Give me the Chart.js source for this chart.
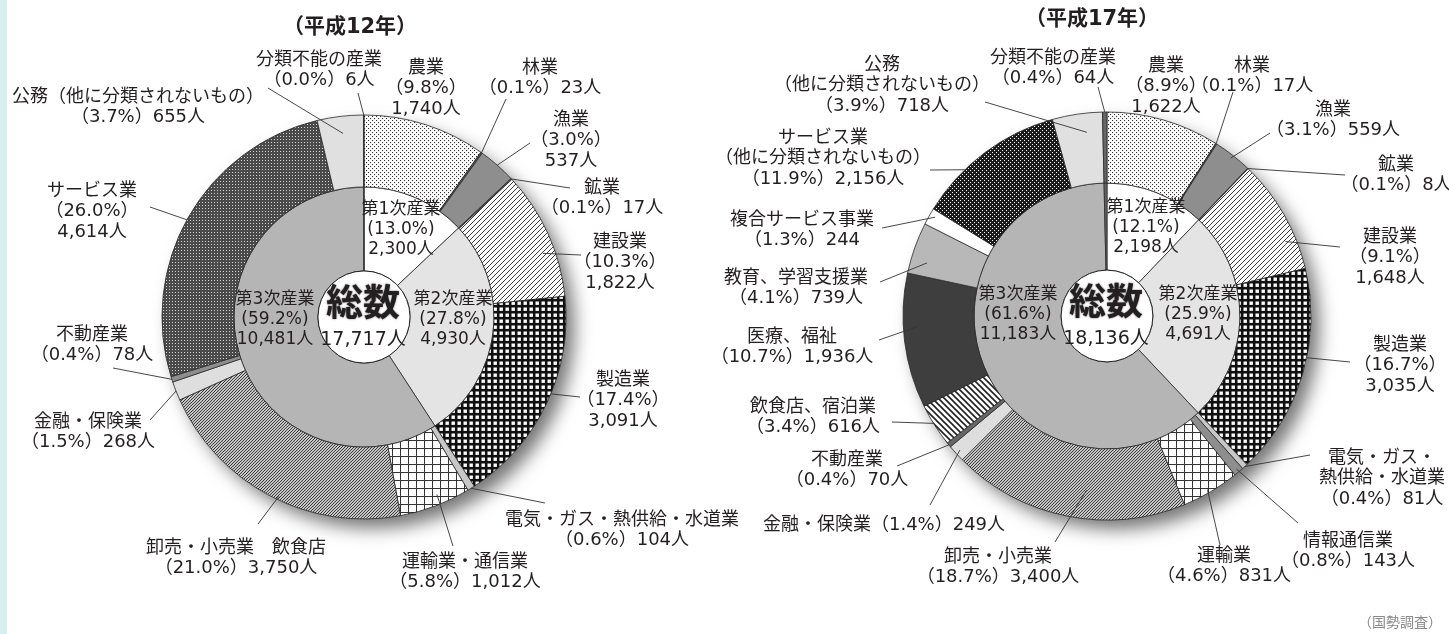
<!DOCTYPE html>
<html lang="ja">
<head>
<meta charset="utf-8">
<script src="https://cdn.jsdelivr.net/npm/chart.js@4.4.0/dist/chart.umd.min.js"></script>
<style>
  html, body { margin: 0; padding: 0; background: #fff; }
  #wrap { position: relative; width: 1449px; height: 634px; overflow: hidden; }
  #edge { position: absolute; left: 0; top: 0; width: 7px; height: 634px; background: #d7eef2; }
  canvas { position: absolute; left: 0; top: 0; }
</style>
</head>
<body>
<div id="wrap">
  <div id="edge"></div>
  <canvas id="c12" width="1449" height="634"></canvas>
  <canvas id="c17" width="1449" height="634"></canvas>
</div>
<script>
// 平成12年
var title12 = '（平成12年）';
var total12 = 17717;
var sectors12 = ['第1次産業', '第2次産業', '第3次産業', '分類不能の産業'];
var sectorPeople12 = [2300, 4930, 10481, 6];
var sectorPct12 = ['13.0', '27.8', '59.2', '0.0'];
var industries12 = ['農業', '林業', '漁業', '鉱業', '建設業', '製造業', '電気・ガス・熱供給・水道業', '運輸業・通信業',
  '卸売・小売業　飲食店', '金融・保険業', '不動産業', 'サービス業', '公務（他に分類されないもの）', '分類不能の産業'];
var people12 = [1740, 23, 537, 17, 1822, 3091, 104, 1012, 3750, 268, 78, 4614, 655, 6];
var pct12 = ['9.8', '0.1', '3.0', '0.1', '10.3', '17.4', '0.6', '5.8', '21.0', '1.5', '0.4', '26.0', '3.7', '0.0'];

// 平成17年
var title17 = '（平成17年）';
var total17 = 18136;
var sectors17 = ['第1次産業', '第2次産業', '第3次産業', '分類不能の産業'];
var sectorPeople17 = [2198, 4691, 11183, 64];
var sectorPct17 = ['12.1', '25.9', '61.6', '0.4'];
var industries17 = ['農業', '林業', '漁業', '鉱業', '建設業', '製造業', '電気・ガス・熱供給・水道業', '情報通信業', '運輸業',
  '卸売・小売業', '金融・保険業', '不動産業', '飲食店、宿泊業', '医療、福祉', '教育、学習支援業', '複合サービス事業',
  'サービス業（他に分類されないもの）', '公務（他に分類されないもの）', '分類不能の産業'];
var people17 = [1622, 17, 559, 8, 1648, 3035, 81, 143, 831, 3400, 249, 70, 616, 1936, 739, 244, 2156, 718, 64];
var pct17 = ['8.9', '0.1', '3.1', '0.1', '9.1', '16.7', '0.4', '0.8', '4.6', '18.7', '1.4', '0.4', '3.4', '10.7', '4.1', '1.3', '11.9', '3.9', '0.4'];

var source = '（国勢調査）';

var FONT = '"DejaVu Sans", "Noto Sans CJK JP", sans-serif';
var JFONT = '"Noto Sans CJK JP", sans-serif';
var INK = '#231f20';

function pattern(kind) {
  var c = document.createElement('canvas');
  var g = c.getContext('2d');
  var s = 4;
  if (kind === 'dots') {
    s = 4; c.width = c.height = s;
    g.fillStyle = '#fff'; g.fillRect(0, 0, s, s);
    g.fillStyle = '#333'; g.fillRect(0, 0, 1.1, 1.1); g.fillRect(2, 2, 1.1, 1.1);
  } else if (kind === 'darkDots') {
    s = 4; c.width = c.height = s;
    g.fillStyle = '#1c1c1c'; g.fillRect(0, 0, s, s);
    g.fillStyle = '#fff'; g.fillRect(0, 0, 1, 1); g.fillRect(2, 2, 1, 1);
  } else if (kind === 'darkCross') {
    s = 3; c.width = c.height = s;
    g.fillStyle = '#4a4a4a'; g.fillRect(0, 0, s, s);
    g.fillStyle = '#d4d4d4'; g.fillRect(1, 1, 1, 1);
  } else if (kind === 'gridDark') {
    s = 6; c.width = c.height = s;
    g.fillStyle = '#111'; g.fillRect(0, 0, s, s);
    g.fillStyle = '#fff'; g.fillRect(1.5, 1.5, 3.4, 3.4);
  } else if (kind === 'gridLight') {
    s = 8; c.width = c.height = s;
    g.fillStyle = '#fff'; g.fillRect(0, 0, s, s);
    g.fillStyle = '#333'; g.fillRect(0, 0, s, 1); g.fillRect(0, 0, 1, s);
  } else if (kind === 'fineHatch') {
    s = 3; c.width = c.height = s;
    g.fillStyle = '#c6c6c6'; g.fillRect(0, 0, s, s);
    g.fillStyle = '#3a3a3a';
    g.fillRect(0, 2, 1, 1); g.fillRect(1, 1, 1, 1); g.fillRect(2, 0, 1, 1);
  } else if (kind === 'hatchR' || kind === 'hatchL') {
    s = kind === 'hatchL' ? 6 : 5;
    c.width = c.height = s;
    g.fillStyle = '#fff'; g.fillRect(0, 0, s, s);
    g.strokeStyle = '#222';
    g.lineWidth = kind === 'hatchL' ? 1.6 : 0.9;
    g.beginPath();
    if (kind === 'hatchL') {
      g.moveTo(-1, -1); g.lineTo(s + 1, s + 1);
      g.moveTo(-1, s - 1); g.lineTo(1, s + 1);
      g.moveTo(s - 1, -1); g.lineTo(s + 1, 1);
    } else {
      g.moveTo(-1, s + 1); g.lineTo(s + 1, -1);
      g.moveTo(-1, 1); g.lineTo(1, -1);
      g.moveTo(s - 1, s + 1); g.lineTo(s + 1, s - 1);
    }
    g.stroke();
  }
  return g.createPattern(c, 'repeat');
}

var colors12 = [pattern('dots'), '#555', '#8e8e8e', '#555', pattern('hatchR'), pattern('gridDark'), '#c8c8c8',
  pattern('gridLight'), pattern('fineHatch'), '#dedede', '#8e8e8e', pattern('darkCross'), '#e0e0e0', '#888'];
var colors17 = [pattern('dots'), '#555', '#8e8e8e', '#555', pattern('hatchR'), pattern('gridDark'), '#c8c8c8', '#8e8e8e',
  pattern('gridLight'), pattern('fineHatch'), '#dedede', '#666', pattern('hatchL'), '#3e3e3e', '#b8b8b8', '#fff',
  pattern('darkDots'), '#e0e0e0', '#666'];

var S3 = '{n}|（{p}%）|{v}人', S2 = '{n}|（{p}%）{v}人', S1 = '{n}（{p}%）{v}人';

// label layout: x, y of first line, template, optional name break, leader [t in slice, r in ring, endX, endY]
var layout12 = [
  { x: 426, y: 68, t: S3 },
  { x: 540, y: 68, t: S2, lead: [0.5, 1, 506, 99] },
  { x: 571, y: 120, t: S3, lead: [0.5, 1, 530, 143] },
  { x: 602, y: 188, t: S2, lead: [0.5, 1, 570, 188] },
  { x: 620, y: 242, t: S3, lead: [0.63, 0.83, 581, 255] },
  { x: 623, y: 380, t: S3, lead: [0.45, 1, 580, 397] },
  { x: 622, y: 520, t: S2, lead: [0.5, 1, 545, 503] },
  { x: 465, y: 562, t: S2, lead: [0.42, 0.86, 453, 546] },
  { x: 236, y: 548, t: S2, lead: [0.47, 0.95, 258, 524] },
  { x: 88, y: 422, t: S2, lead: [0.5, 1, 150, 420] },
  { x: 92, y: 335, t: S2, lead: [0.5, 1, 113, 368] },
  { x: 92, y: 191, t: S3, lead: [0.49, 1, 150, 207] },
  { x: 138, y: 97, t: S2, lead: [0.52, 0.76, 268, 88] },
  { x: 319, y: 60, t: S2, lead: [0.5, 1, 358, 93] }
];
var layout17 = [
  { x: 1166, y: 66, t: S3 },
  { x: 1252, y: 66, t: S2, lead: [0.5, 1, 1233, 92] },
  { x: 1333, y: 110, t: S2, lead: [0.5, 0.95, 1270, 133] },
  { x: 1396, y: 165, t: S2, lead: [0.5, 1, 1345, 175] },
  { x: 1390, y: 237, t: S3, lead: [0.72, 0.85, 1340, 247] },
  { x: 1400, y: 345, t: S3, lead: [0.42, 1, 1350, 362] },
  { x: 1382, y: 458, t: S2, brk: 6, lead: [0.5, 1, 1310, 455] },
  { x: 1348, y: 541, t: S2, lead: [0.5, 0.95, 1298, 523] },
  { x: 1224, y: 556, t: S2, lead: [0.53, 0.95, 1220, 545] },
  { x: 998, y: 557, t: S2, lead: [0.43, 0.6, 1055, 542] },
  { x: 884, y: 525, t: S1, lead: [0.5, 0.93, 930, 505] },
  { x: 847, y: 460, t: S2, lead: [0.5, 1, 897, 466] },
  { x: 813, y: 407, t: S2, lead: [0.55, 1, 892, 422] },
  { x: 792, y: 337, t: S2, lead: [0.6, 0.8, 879, 340] },
  { x: 796, y: 278, t: S2, lead: [0.29, 0.77, 880, 282] },
  { x: 802, y: 220, t: '{n}|（{p}%）{v}', lead: [0.63, 0.92, 882, 228] },
  { x: 823, y: 138, t: S2, brk: 5, lead: [0.33, 1, 930, 170] },
  { x: 882, y: 65, t: S2, brk: 2, lead: [0.65, 0.73, 985, 102] },
  { x: 1053, y: 58, t: S2, lead: [0.5, 1, 1098, 87] }
];
var inner12 = [{ x: 401, y: 210 }, { x: 453, y: 300 }, { x: 275, y: 300 }];
var inner17 = [{ x: 1146, y: 208 }, { x: 1198, y: 295 }, { x: 1018, y: 295 }];

function fmt(v) { return v.toLocaleString('en-US'); }
function lines(tpl, name, pct, v, brk) {
  var n = brk ? name.slice(0, brk) + '|' + name.slice(brk) : name;
  return tpl.replace('{n}', n).replace('{p}', pct).replace('{v}', fmt(v)).split('|');
}
function drawLines(ctx, arr, x, y, lh) {
  arr.forEach(function (s, k) { ctx.fillText(s, x, y + k * lh); });
}

function donutPlugin(cfg) {
  return {
    id: 'donutText',
    beforeDatasetsDraw: function (chart) {
      var a = chart.getDatasetMeta(0).data[0];
      var ctx = chart.ctx;
      ctx.save();
      ctx.shadowColor = 'rgba(0,0,0,0.55)';
      ctx.shadowBlur = 18;
      ctx.shadowOffsetX = 9;
      ctx.shadowOffsetY = 10;
      ctx.beginPath();
      ctx.arc(a.x, a.y, a.outerRadius - 1, 0, Math.PI * 2);
      ctx.fillStyle = '#fff';
      ctx.fill();
      ctx.restore();
    },
    afterDatasetsDraw: function (chart) {
      var ctx = chart.ctx;
      var outer = chart.getDatasetMeta(0).data;
      var inner = chart.getDatasetMeta(1).data;
      var cx = outer[0].x, cy = outer[0].y, r0 = inner[0].innerRadius;
      ctx.save();
      ctx.beginPath();
      ctx.arc(cx, cy, r0, 0, Math.PI * 2);
      ctx.fillStyle = '#fff';
      ctx.fill();
      ctx.lineWidth = 1;
      ctx.strokeStyle = '#222';
      ctx.stroke();

      ctx.strokeStyle = '#333';
      ctx.lineWidth = 0.9;
      ctx.fillStyle = INK;
      ctx.textAlign = 'center';
      ctx.textBaseline = 'middle';
      ctx.font = '18px ' + FONT;
      cfg.layout.forEach(function (L, i) {
        var el = outer[i];
        if (L.lead) {
          var ang = el.startAngle + (el.endAngle - el.startAngle) * L.lead[0];
          var r = el.innerRadius + (el.outerRadius - el.innerRadius) * L.lead[1];
          ctx.beginPath();
          ctx.moveTo(cx + r * Math.cos(ang), cy + r * Math.sin(ang));
          ctx.lineTo(L.lead[2], L.lead[3]);
          ctx.stroke();
        }
        drawLines(ctx, lines(L.t, cfg.names[i], cfg.pct[i], cfg.people[i], L.brk), L.x, L.y, 20.5);
      });

      ctx.font = '17px ' + FONT;
      cfg.inner.forEach(function (P, i) {
        drawLines(ctx, lines('{n}|({p}%)|{v}人', cfg.sectors[i], cfg.sectorPct[i], cfg.sectorPeople[i]), P.x, P.y, 20);
      });

      ctx.save();
      ctx.font = 'bold 37px ' + JFONT;
      ctx.shadowColor = 'rgba(0,0,0,0.6)';
      ctx.shadowBlur = 2;
      ctx.fillText('総数', cx - 1, cy - 15);
      ctx.restore();
      ctx.font = '19px ' + FONT;
      ctx.fillText(fmt(cfg.total) + '人', cx - 1, cy + 23);

      ctx.font = 'bold 21px ' + FONT;
      ctx.fillText(cfg.title, cfg.titleX, cfg.titleY);
      if (cfg.source) {
        ctx.font = '14px ' + JFONT;
        ctx.fillStyle = '#8a8a8a';
        ctx.fillText(cfg.source, 1400, 622);
      }
      ctx.restore();
    }
  };
}

function build(id, cfg) {
  return new Chart(document.getElementById(id), {
    type: 'doughnut',
    data: {
      labels: cfg.names,
      datasets: [
        { data: cfg.people, backgroundColor: cfg.colors, borderColor: '#2a2a2a', borderWidth: 0.8, weight: cfg.wOuter },
        { data: cfg.sectorPeople, backgroundColor: cfg.sectorColors, borderColor: '#2a2a2a', borderWidth: 0.8, weight: cfg.wInner }
      ]
    },
    options: {
      responsive: false,
      animation: false,
      events: [],
      radius: cfg.radius,
      cutout: cfg.cutout,
      layout: { padding: cfg.padding },
      plugins: { legend: { display: false }, tooltip: { enabled: false } }
    },
    plugins: [donutPlugin(cfg)]
  });
}

build('c12', {
  title: title12, titleX: 350, titleY: 28, total: total12,
  names: industries12, people: people12, pct: pct12, colors: colors12,
  sectors: sectors12, sectorPeople: sectorPeople12, sectorPct: sectorPct12,
  sectorColors: ['#fff', '#e4e4e4', '#b5b5b5', '#b5b5b5'],
  layout: layout12, inner: inner12,
  radius: 202, cutout: '22.8%', wOuter: 72, wInner: 84,
  padding: { left: 0, right: 721, top: 0, bottom: 0 }
});

build('c17', {
  title: title17, titleX: 1092, titleY: 20, total: total17, source: source,
  names: industries17, people: people17, pct: pct17, colors: colors17,
  sectors: sectors17, sectorPeople: sectorPeople17, sectorPct: sectorPct17,
  sectorColors: ['#fff', '#e4e4e4', '#b5b5b5', '#666'],
  layout: layout17, inner: inner17,
  radius: 204, cutout: '22.5%', wOuter: 71, wInner: 87,
  padding: { left: 765, right: 0, top: 0, bottom: 2 }
});
</script>
</body>
</html>
